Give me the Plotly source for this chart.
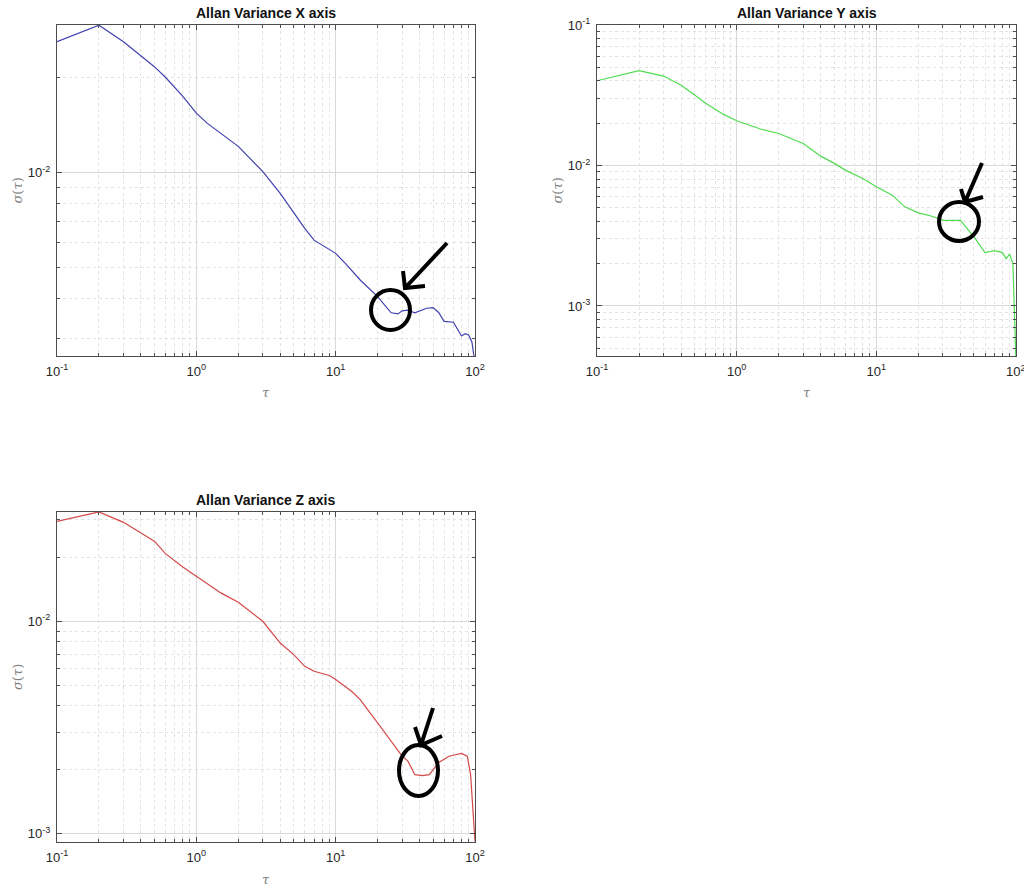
import plotly.graph_objects as go

W, H = 1024, 886

# ---------------- data ----------------
tau_x = [0.1, 0.2, 0.3, 0.4, 0.5, 0.6, 0.8, 1.0, 1.2, 2.0, 3.0, 4.0, 5.0, 6.0, 7.0, 8.0, 9.0, 10, 12, 15, 20,
         25, 28, 30, 33, 37, 45, 50, 55, 60, 70, 75, 80, 85, 90, 95, 100]
sig_x = [0.0259, 0.0292, 0.0259, 0.0234, 0.0216, 0.0200, 0.0174, 0.0154, 0.0143, 0.0121, 0.01007, 0.0086,
         0.00744, 0.00667, 0.00612, 0.00591, 0.00573, 0.00556, 0.00511, 0.00458, 0.00406,
         0.00361, 0.00358, 0.00366, 0.00368, 0.00361, 0.00373, 0.00375, 0.00361, 0.00339, 0.00337,
         0.00319, 0.00305, 0.00310, 0.00307, 0.00292, 0.0025]

tau_y = [0.1, 0.2, 0.3, 0.4, 0.5, 0.6, 0.8, 1.0, 1.5, 2.0, 3.0, 4.0, 5.0, 6.0, 8.0, 10, 13, 16, 20, 25, 30,
         40, 50, 60, 70, 80, 85, 90, 95, 100]
sig_y = [0.0401, 0.0473, 0.0433, 0.0373, 0.0317, 0.0277, 0.0232, 0.0208, 0.0181, 0.0169, 0.01435, 0.01166,
         0.01035, 0.00927, 0.00808, 0.00705, 0.00615, 0.00508, 0.0046, 0.00435, 0.00407,
         0.00407, 0.0031, 0.0024, 0.00248, 0.0024, 0.00217, 0.00234, 0.0020, 0.0004]

tau_z = [0.1, 0.2, 0.3, 0.4, 0.5, 0.6, 0.8, 1.0, 1.5, 2.0, 3.0, 4.0, 5.0, 6.0, 7.0, 9.0, 10, 13, 15, 20,
         25, 30, 33, 37, 42, 47, 55, 65, 80, 88, 93, 97, 100]
sig_z = [0.0295, 0.0327, 0.0292, 0.0260, 0.0238, 0.0208, 0.0180, 0.0163, 0.0136, 0.01228, 0.0100, 0.0079,
         0.00697, 0.00614, 0.00582, 0.00556, 0.00532, 0.00469, 0.00428, 0.00333,
         0.00273, 0.00232, 0.00220, 0.0019, 0.00188, 0.0019, 0.00217, 0.00232, 0.00239, 0.00232,
         0.0019, 0.00126, 0.00092]

titles = ["Allan Variance X axis", "Allan Variance Y axis", "Allan Variance Z axis"]
colors = ["#4040b0", "#50dc50", "#d44848"]
y_ranges = [(-2.579, -1.534), (-3.356, -1.0), (-3.038, -1.486)]
x_range = (-1, 2)

decades_x = [0.1, 1, 10, 100]
decade_text_x = ["10<sup>-1</sup>", "10<sup>0</sup>", "10<sup>1</sup>", "10<sup>2</sup>"]
decades_y = [0.001, 0.01, 0.1]
decade_text_y = ["10<sup>-3</sup>", "10<sup>-2</sup>", "10<sup>-1</sup>"]

# ---------------- layout geometry (pixels) ----------------
panels = [  # left, right, top, bottom
    (57, 475, 25, 356),
    (597, 1016, 25, 356),
    (57, 475, 512, 842),
]


def px(x):
    return x / W


def py(y):
    return 1 - y / H


def minor_vals(lo, hi):
    out = []
    for e in range(lo, hi + 1):
        for m in range(2, 10):
            out.append(m * 10 ** e)
    return out


fig = go.Figure()
series = [(tau_x, sig_x), (tau_y, sig_y), (tau_z, sig_z)]
axis_font = dict(family="Arial, Liberation Sans, sans-serif", size=13, color="#262626")
grid_major = "#d9d9d9"
grid_minor = "#e3e3e3"

for i, ((t, s), (l, r, tp, bt)) in enumerate(zip(series, panels)):
    n = "" if i == 0 else str(i + 1)
    fig.add_trace(go.Scatter(x=t, y=s, mode="lines", line=dict(color=colors[i], width=1.2),
                             xaxis="x" + n, yaxis="y" + n, showlegend=False, hoverinfo="skip"))
    common = dict(type="log", showline=True, linecolor="#4d4d4d", linewidth=1, mirror="allticks",
                  ticks="inside", ticklen=5, tickcolor="#4d4d4d", showgrid=True, gridcolor=grid_major,
                  gridwidth=1, zeroline=False, tickfont=axis_font, tickmode="array", automargin=False)
    fig.update_layout(**{
        "xaxis" + n: dict(common, domain=[px(l), px(r)], range=list(x_range), anchor="y" + n,
                          tickvals=decades_x, ticktext=decade_text_x, ticklabelstandoff=3,
                          minor=dict(tickmode="array", tickvals=minor_vals(-1, 1), ticks="inside",
                                     ticklen=3, tickcolor="#4d4d4d", showgrid=True,
                                     gridcolor=grid_minor, griddash="dot", gridwidth=1)),
        "yaxis" + n: dict(common, domain=[py(bt), py(tp)], range=list(y_ranges[i]), anchor="x" + n,
                          tickvals=decades_y, ticktext=decade_text_y, ticklabelstandoff=3,
                          minor=dict(tickmode="array", tickvals=minor_vals(-4, -1), ticks="inside",
                                     ticklen=3, tickcolor="#4d4d4d", showgrid=True,
                                     gridcolor=grid_minor, griddash="dot", gridwidth=1)),
    })
    # title
    fig.add_annotation(text="<b>" + titles[i] + "</b>", xref="paper", yref="paper",
                       x=px((l + r) / 2), y=py(tp - 12), showarrow=False, xanchor="center", yanchor="middle",
                       font=dict(family="Arial, Liberation Sans, sans-serif", size=14, color="#111"))
    # axis labels
    fig.add_annotation(text="<i>τ</i>", xref="paper", yref="paper", x=px((l + r) / 2), y=py(bt + 37),
                       showarrow=False, xanchor="center", yanchor="middle",
                       font=dict(family="DejaVu Serif, serif", size=13, color="#808080"))
    fig.add_annotation(text="<i>σ</i>(<i>τ</i>)", xref="paper", yref="paper", x=px(l - 40),
                       y=py((tp + bt) / 2), textangle=-90, showarrow=False, xanchor="center",
                       yanchor="middle",
                       font=dict(family="DejaVu Serif, serif", size=13, color="#808080"))

# the right-most x tick label of the Y panel runs off the page edge in the reference
fig.add_annotation(text=decade_text_x[-1], xref="x2", yref="paper", x=2, y=py(panels[1][3] + 5),
                   showarrow=False, xanchor="center", yanchor="top", font=axis_font)

# ---------------- hand-drawn marks over the chart (pixel geometry) ----------------
circles = [(371, 290, 410, 330), (939, 202, 979, 241), (399, 745, 438, 796)]
arrows = [  # shaft start, tip, arm1, arm2
    ((447, 243), (405, 288), (403, 271), (425, 286)),
    ((982, 163), (965, 202), (961, 189), (983, 197)),
    ((433, 708), (421, 745), (415, 727), (442, 736)),
]
for (x0, y0, x1, y1) in circles:
    fig.add_shape(type="circle", xref="paper", yref="paper", x0=px(x0), x1=px(x1), y0=py(y1), y1=py(y0),
                  line=dict(color="black", width=4))
for (s, t, a1, a2) in arrows:
    path = (f"M {px(s[0])},{py(s[1])} L {px(t[0])},{py(t[1])} "
            f"M {px(a1[0])},{py(a1[1])} L {px(t[0])},{py(t[1])} L {px(a2[0])},{py(a2[1])}")
    fig.add_shape(type="path", xref="paper", yref="paper", path=path,
                  line=dict(color="black", width=4))

fig.update_layout(width=W, height=H, margin=dict(l=0, r=0, t=0, b=0, autoexpand=False),
                  paper_bgcolor="white", plot_bgcolor="white", showlegend=False)

fig.write_html("out.html")
